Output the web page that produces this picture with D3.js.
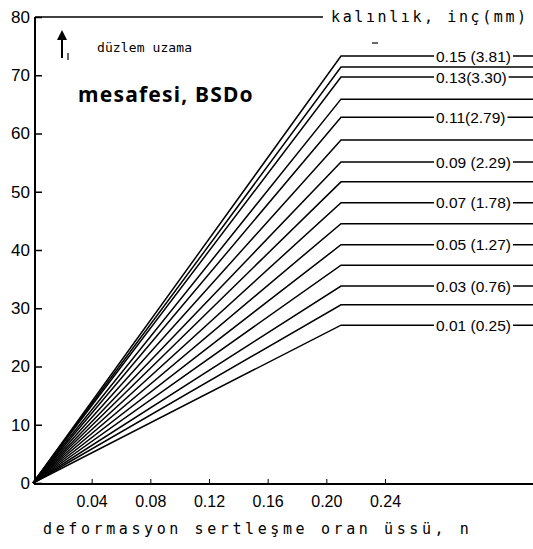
<!DOCTYPE html>
<html>
<head>
<meta charset="utf-8">
<script src="https://cdn.jsdelivr.net/npm/d3@7/dist/d3.min.js"></script>
<style>
  html, body { margin: 0; padding: 0; background: #fff; }
  svg { display: block; }
  .mono { font-family: "DejaVu Sans Mono", monospace; }
</style>
</head>
<body>
<div id="chart"></div>
<script>
// ---- data ----
const thicknessIn = [0.01, 0.02, 0.03, 0.04, 0.05, 0.06, 0.07, 0.08, 0.09, 0.10, 0.11, 0.12, 0.13, 0.14, 0.15];
const thicknessLabels = ["0.01 (0.25)", "", "0.03 (0.76)", "", "0.05 (1.27)", "", "0.07 (1.78)", "", "0.09 (2.29)", "", "0.11(2.79)", "", "0.13(3.30)", "", "0.15 (3.81)"];
const plateauValues = [27.1, 30.6, 33.8, 37.4, 40.9, 44.5, 48.1, 51.7, 55.1, 58.9, 62.8, 65.9, 69.7, 71.4, 73.3];
const kneeN = 0.21;
const xTicks = [0.04, 0.08, 0.12, 0.16, 0.20, 0.24];
const yTicks = [0, 10, 20, 30, 40, 50, 60, 70, 80];

const W = 533, H = 549;
const svg = d3.select("#chart").append("svg").attr("width", W).attr("height", H);

const x = d3.scaleLinear().domain([0, 0.24]).range([33, 385]);
const y = d3.scaleLinear().domain([0, 80]).range([483, 17]);
const xEnd = x.invert(533);

// curves
const line = d3.line().x(d => x(d[0])).y(d => y(d[1]));
const g = svg.append("g");
plateauValues.forEach((v, i) => {
  const pts = [[0, 0], [kneeN, v], [xEnd, v]];
  g.append("path").attr("d", line(pts)).attr("fill", "none")
    .attr("stroke", "#000").attr("stroke-width", 1.5).attr("stroke-linejoin", "miter");
});
// labels on odd lines
plateauValues.forEach((v, i) => {
  const lab = thicknessLabels[i];
  if (!lab) return;
  const t = g.append("text").attr("x", 436).attr("y", y(v)).attr("dy", "0.36em")
    .attr("font-family", "Liberation Sans, Arial, sans-serif").attr("font-size", 15.5)
    .text(lab);
  const bb = t.node().getBBox();
  g.insert("rect", () => t.node()).attr("x", bb.x - 2).attr("y", y(v) - 3)
    .attr("width", bb.width + 4).attr("height", 6).attr("fill", "#fff");
});

// axes
const yAxis = d3.axisRight(y).tickValues(yTicks).tickSize(7).tickFormat(d3.format("d"));
const ya = svg.append("g").attr("transform", "translate(35,0)").call(yAxis);
ya.select(".domain").remove();
ya.selectAll("text").attr("x", -5).attr("text-anchor", "end")
  .attr("font-family", "Liberation Sans, Arial, sans-serif").attr("font-size", 17);
ya.selectAll("line").attr("stroke-width", 1.5);
svg.append("line").attr("x1", 35).attr("x2", 35).attr("y1", y(80)).attr("y2", y(0) + 1)
  .attr("stroke", "#000").attr("stroke-width", 2);

const xAxis = d3.axisTop(x).tickValues(xTicks).tickSize(5).tickFormat(d3.format(".2f"));
const xa = svg.append("g").attr("transform", `translate(0,${y(0) + 1})`).call(xAxis);
xa.select(".domain").remove();
xa.selectAll("text").attr("y", 23).attr("dy", 0)
  .attr("font-family", "Liberation Sans, Arial, sans-serif").attr("font-size", 16);
svg.append("line").attr("x1", 34).attr("x2", 533).attr("y1", y(0) + 1).attr("y2", y(0) + 1)
  .attr("stroke", "#000").attr("stroke-width", 2);

// top frame line and legend title
svg.append("line").attr("x1", 35).attr("x2", 323).attr("y1", y(80)).attr("y2", y(80))
  .attr("stroke", "#000").attr("stroke-width", 1.5);
svg.append("text").attr("class", "mono").attr("x", 331).attr("y", y(80) + 5)
  .attr("font-size", 15).attr("letter-spacing", 2.6).text("kalınlık, inç(mm)");
svg.append("line").attr("x1", 372).attr("x2", 378).attr("y1", 43).attr("y2", 43)
  .attr("stroke", "#000").attr("stroke-width", 1.2);

// arrow and upper-left annotation
svg.append("line").attr("x1", 62).attr("x2", 62).attr("y1", 58).attr("y2", 36)
  .attr("stroke", "#000").attr("stroke-width", 2);
svg.append("path").attr("d", "M57,40 L62,30 L67,40 Z").attr("fill", "#000");
svg.append("line").attr("x1", 68).attr("x2", 68).attr("y1", 53).attr("y2", 60)
  .attr("stroke", "#000").attr("stroke-width", 1.2);
svg.append("text").attr("class", "mono").attr("x", 97).attr("y", 52)
  .attr("font-size", 13).attr("letter-spacing", 0.1).text("düzlem uzama");
svg.append("text").attr("x", 78).attr("y", 102)
  .attr("font-family", "Noto Sans, sans-serif").attr("font-weight", "bold")
  .attr("font-size", 21).attr("letter-spacing", 1.2).text("mesafesi, BSDo");

// x axis title
svg.append("text").attr("class", "mono").attr("x", 43).attr("y", 534)
  .attr("font-size", 15).attr("letter-spacing", 3.6).text("deformasyon sertleşme oran üssü, n");
</script>
</body>
</html>
